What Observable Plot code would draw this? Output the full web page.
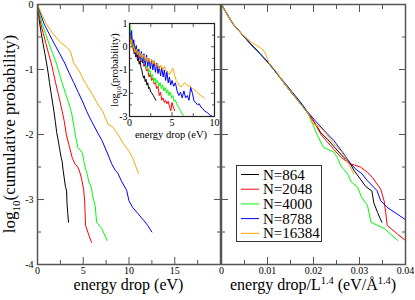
<!DOCTYPE html>
<html><head><meta charset="utf-8">
<script src="https://cdn.jsdelivr.net/npm/d3@7"></script>
<script src="https://cdn.jsdelivr.net/npm/@observablehq/plot@0.6"></script>
<style>
html,body{margin:0;padding:0;background:#fff;}
#chart{position:relative;width:415px;height:300px;overflow:hidden;}
#chart svg{position:absolute;left:0;top:0;}
#chart svg, #chart svg text, #chart svg tspan{font-family:"Liberation Serif","DejaVu Serif",serif !important;}
</style></head><body><div id="chart"></div>
<script>
// ---- series metadata ----
const seriesLabels = ["N=864", "N=2048", "N=4000", "N=8788", "N=16384"];
const seriesColors = ["#000000", "#ff0000", "#00ff00", "#0000ff", "#ffa500"];
const boxLength = [26.3, 35.1, 43.8, 57.2, 70.2]; // L in Å

// ---- cumulative probability (main panels) ----
const cumE864 = [0,0.12,0.25,0.42,0.6,0.8,0.99,1.16,1.31,1.47,1.64,1.8,1.95,2.1,2.25,2.42,2.58,2.7,2.8,2.95,3.05,3.18,3.22,3.3,3.39];
const cumY864 = [0,-0.15,-0.3,-0.45,-0.6,-0.75,-0.9,-1.05,-1.2,-1.35,-1.5,-1.65,-1.8,-1.97,-2.08,-2.22,-2.35,-2.42,-2.55,-2.7,-2.8,-2.87,-3.05,-3.2,-3.35];
const cumE2048 = [0,0.17,0.36,0.64,0.92,1.2,1.5,1.74,1.97,2.22,2.47,2.71,2.93,3.15,3.45,3.78,4.08,4.4,4.62,4.78,5.04,5.15,5.2,5.25,5.57,5.9];
const cumY2048 = [0,-0.15,-0.3,-0.45,-0.6,-0.75,-0.9,-1.05,-1.2,-1.35,-1.5,-1.65,-1.8,-2.0,-2.17,-2.35,-2.45,-2.5,-2.58,-2.66,-2.84,-3.02,-3.2,-3.4,-3.53,-3.66];
const cumE4000 = [0,0.24,0.5,0.87,1.25,1.65,2.05,2.37,2.68,3.02,3.38,3.7,3.95,4.15,4.41,4.85,5.0,5.15,5.45,5.6,5.88,6.04,6.3,6.46,7.04,7.61];
const cumY4000 = [0,-0.15,-0.3,-0.45,-0.6,-0.75,-0.9,-1.05,-1.2,-1.35,-1.5,-1.65,-1.85,-2.02,-2.2,-2.27,-2.35,-2.48,-2.61,-2.73,-2.81,-2.96,-3.09,-3.35,-3.45,-3.63];
const cumE8788 = [0,0.35,0.72,1.27,1.82,2.4,2.97,3.45,3.95,4.45,4.95,5.4,5.85,6.3,6.64,7.04,7.68,8.1,8.5,8.8,9.15,9.75,9.99,10.39,11.0,11.6,12.05,12.5];
const cumY8788 = [0,-0.15,-0.3,-0.45,-0.6,-0.75,-0.9,-1.05,-1.2,-1.35,-1.5,-1.65,-1.78,-1.9,-1.99,-2.09,-2.3,-2.45,-2.55,-2.6,-2.71,-2.86,-3.02,-3.12,-3.22,-3.32,-3.4,-3.5];
const cumE16384 = [0,0.46,0.96,1.69,2.42,3.2,3.6,3.96,4.58,5.19,5.85,6.54,7.15,7.7,8.27,8.8,9.38,9.96,10.4,10.77,11.04];
const cumY16384 = [0,-0.15,-0.3,-0.45,-0.57,-0.66,-0.72,-0.9,-1.03,-1.2,-1.35,-1.52,-1.65,-1.84,-1.89,-2.0,-2.14,-2.25,-2.36,-2.5,-2.6];

// ---- probability density (inset) ----
const insE864 = [0.05,0.15,0.25,0.35,0.45,0.55,0.65,0.75,0.85,0.95,1.05,1.15,1.25,1.35,1.45,1.55,1.65,1.75,1.85,1.95,2.05,2.15,2.25,2.35,2.5,2.65,2.8,2.95,3.1];
const insY864 = [0.6,0.2,0.35,-0.1,0.05,-0.3,-0.15,-0.45,-0.3,-0.6,-0.5,-0.75,-0.6,-0.9,-1.0,-1.2,-1.35,-1.25,-1.5,-1.4,-1.65,-1.55,-1.8,-1.75,-1.95,-2.0,-2.1,-2.2,-2.3];
const insE2048 = [0.05,0.2,0.35,0.5,0.65,0.8,0.95,1.1,1.25,1.4,1.55,1.7,1.85,2.0,2.15,2.3,2.45,2.6,2.75,2.9,3.05,3.2,3.35,3.5,3.65,3.8,3.95,4.1,4.25,4.4,4.55,4.7,4.85,5.0,5.15,5.3];
const insY2048 = [0.7,0.3,0.1,-0.15,0.0,-0.35,-0.25,-0.5,-0.4,-0.65,-0.55,-0.85,-0.75,-1.05,-0.95,-1.3,-1.15,-1.45,-1.35,-1.6,-1.55,-1.8,-1.7,-2.1,-1.95,-2.3,-2.2,-2.4,-2.3,-2.45,-2.35,-2.55,-2.75,-2.4,-2.6,-2.75];
const insE4000 = [0.05,0.15,0.3,0.45,0.6,0.75,0.9,1.05,1.2,1.35,1.5,1.65,1.8,1.95,2.1,2.25,2.4,2.55,2.7,2.85,3.0,3.15,3.3,3.45,3.6,3.75,3.9,4.05,4.2,4.35,4.5,4.65,4.8,4.95,5.1,5.25,5.4,5.55,5.7,5.85,6.0,6.15,6.3];
const insY4000 = [1.0,0.5,0.2,-0.05,0.1,-0.25,-0.1,-0.4,-0.3,-0.55,-0.45,-0.7,-0.6,-0.9,-0.8,-1.1,-1.0,-1.3,-1.2,-1.5,-1.35,-1.55,-1.45,-1.7,-1.55,-1.8,-1.65,-1.9,-1.75,-2.0,-1.85,-2.1,-1.95,-2.2,-2.1,-2.35,-2.3,-2.45,-2.55,-2.65,-2.75,-2.85,-2.95];
const insE8788 = [0.05,0.15,0.25,0.35,0.5,0.65,0.8,0.95,1.1,1.25,1.4,1.55,1.7,1.85,2.0,2.15,2.3,2.45,2.6,2.75,2.9,3.05,3.2,3.35,3.5,3.65,3.8,3.95,4.1,4.25,4.4,4.55,4.7,4.85,5.0,5.2,5.4,5.6,5.8,6.0,6.2,6.4,6.6,6.8,7.0,7.2,7.4,7.6,7.8,8.0,8.2,8.4,8.6,8.8,9.0,9.2,9.5,9.8];
const insY8788 = [0.6,0.2,0.7,0.0,0.3,-0.3,0.05,-0.45,-0.1,-0.55,-0.2,-0.7,-0.3,-0.8,-0.35,-0.85,-0.5,-0.95,-0.55,-1.0,-0.6,-1.1,-0.7,-1.15,-0.85,-1.25,-0.9,-1.3,-1.0,-1.45,-1.05,-1.55,-1.3,-1.65,-1.45,-1.7,-1.55,-1.9,-2.1,-1.95,-2.2,-1.9,-2.2,-2.1,-2.3,-1.75,-2.0,-2.35,-2.4,-2.5,-2.45,-2.6,-2.65,-2.75,-2.8,-2.85,-2.95,-3.0];
const insE16384 = [0.05,0.15,0.25,0.35,0.5,0.65,0.8,0.95,1.1,1.25,1.4,1.55,1.7,1.85,2.0,2.15,2.3,2.45,2.6,2.75,2.9,3.1,3.3,3.5,3.7,3.9,4.1,4.3,4.5,4.7,4.9,5.1,5.3,5.5,5.7,5.9,6.1,6.3,6.5,6.7,6.9,7.1,7.3,7.5,7.7,7.9,8.1,8.3,8.5,8.7,8.8];
const insY16384 = [0.5,0.1,0.3,-0.1,0.05,-0.25,-0.1,-0.35,-0.2,-0.45,-0.3,-0.5,-0.35,-0.6,-0.45,-0.65,-0.5,-0.7,-0.55,-0.75,-0.6,-0.85,-0.7,-0.95,-0.8,-1.0,-0.85,-1.05,-1.1,-1.2,-1.05,-0.92,-1.2,-1.45,-1.55,-1.7,-1.72,-1.62,-1.55,-1.6,-1.7,-1.68,-1.75,-1.82,-1.88,-1.92,-2.0,-2.08,-2.12,-2.18,-2.22];

// ---- ticks ----
const leftXMajor = [0, 5, 10, 15, 20], leftXMinor = [2.5, 7.5, 12.5, 17.5], leftXLabels = [0, 5, 10, 15];
const yMajor = [0, -1, -2, -3, -4], yMinor = [-0.5, -1.5, -2.5, -3.5];
const rightXMajor = [0, 0.01, 0.02, 0.03, 0.04], rightXMinor = [0.005, 0.015, 0.025, 0.035];
const insXMajor = [0, 5, 10], insXMinor = [2.5, 7.5];
const insYMajor = [1, 0, -1, -2, -3], insYMinor = [0.5, -0.5, -1.5, -2.5];

// ---- build tables ----
const cumSets = [[cumE864, cumY864], [cumE2048, cumY2048], [cumE4000, cumY4000], [cumE8788, cumY8788], [cumE16384, cumY16384]];
const insSets = [[insE864, insY864], [insE2048, insY2048], [insE4000, insY4000], [insE8788, insY8788], [insE16384, insY16384]];
function rows(sets) {
  const out = [];
  sets.forEach(([E, Y], i) => E.forEach((e, j) => out.push({N: seriesLabels[i], E: e, y: Y[j], L: boxLength[i]})));
  return out;
}
const cumRows = rows(cumSets);
const insRows = rows(insSets);

const FONT = '"Liberation Serif","DejaVu Serif",serif';
const AXIS = "#555";
const W = 415, H = 300;
const color = {domain: seriesLabels, range: seriesColors};

function boxTicks(xMaj, xMin, yMaj, yMin, big, small) {
  const s = {stroke: AXIS, strokeWidth: 1, fill: "none", label: null};
  const out = [];
  for (const [t, len] of [[xMaj, big], [xMin, small]]) {
    out.push(Plot.axisX(t, {...s, anchor: "bottom", tickSize: len, dy: -len}));
    out.push(Plot.axisX(t, {...s, anchor: "top", tickSize: len, dy: len}));
  }
  for (const [t, len] of [[yMaj, big], [yMin, small]]) {
    out.push(Plot.axisY(t, {...s, anchor: "left", tickSize: len, dx: len}));
    out.push(Plot.axisY(t, {...s, anchor: "right", tickSize: len, dx: -len}));
  }
  return out;
}
const style = {fontFamily: FONT, fontSize: "10px", background: "transparent", overflow: "visible", color: "#000"};

const left = Plot.plot({
  width: W, height: H, marginLeft: 37, marginRight: 195, marginTop: 4, marginBottom: 36,
  x: {domain: [0, 20]}, y: {domain: [-4, 0]}, color, style,
  marks: [
    Plot.line(cumRows, {x: "E", y: "y", z: "N", stroke: "N", strokeWidth: 1, clip: true}),
    ...boxTicks(leftXMajor, leftXMinor, yMajor, yMinor, 7, 4),
    Plot.axisX(leftXLabels, {anchor: "bottom", tickSize: 0, tickPadding: 2, tickFormat: d => String(d), label: null, fontSize: 10}),
    Plot.axisY(yMajor, {anchor: "left", tickSize: 0, tickPadding: 4, tickFormat: d => String(d), label: null, fontSize: 10}),
    Plot.frame({stroke: AXIS, strokeWidth: 1.5})
  ]
});

const right = Plot.plot({
  width: W, height: H, marginLeft: 221, marginRight: 10, marginTop: 4, marginBottom: 36,
  x: {domain: [0, 0.04]}, y: {domain: [-4, 0]}, color, style,
  marks: [
    Plot.line(cumRows, {x: d => d.E / Math.pow(d.L, 1.4), y: "y", z: "N", stroke: "N", strokeWidth: 1, clip: true}),
    ...boxTicks(rightXMajor, rightXMinor, yMajor, yMinor, 7, 4),
    Plot.axisX(rightXMajor, {anchor: "bottom", tickSize: 0, tickPadding: 2, tickFormat: d => String(d), label: null, fontSize: 10}),
    Plot.frame({stroke: AXIS, strokeWidth: 1.5})
  ]
});

const inset = Plot.plot({
  width: W, height: H, marginLeft: 129, marginRight: 201, marginTop: 23, marginBottom: 184,
  x: {domain: [0, 10]}, y: {domain: [-3, 1]}, color, style,
  marks: [
    Plot.frame({fill: "white", stroke: "none"}),
    Plot.line(insRows, {x: "E", y: "y", z: "N", stroke: "N", strokeWidth: 1, clip: true}),
    ...boxTicks(insXMajor, insXMinor, insYMajor, insYMinor, 4, 3),
    Plot.axisX(insXMajor, {anchor: "bottom", tickSize: 0, tickPadding: 2, tickFormat: d => String(d), label: null, fontSize: 10}),
    Plot.axisY(insYMajor, {anchor: "left", tickSize: 0, tickPadding: 2, tickFormat: d => String(d), label: null, fontSize: 10}),
    Plot.frame({stroke: "#222", strokeWidth: 1.2})
  ]
});

const chart = document.getElementById("chart");
chart.append(left, right, inset);

// ---- labels and legend overlay ----
const ov = d3.select(chart).append("svg").attr("width", W).attr("height", H)
  .style("overflow", "visible");

function addText(g, parts, size) {
  parts.forEach(([txt, kind]) => {
    const t = g.append("tspan").text(txt);
    if (kind === "sub") t.attr("dy", size * 0.3).style("font-size", (size * 0.65) + "px");
    else if (kind === "sup") t.attr("dy", -size * 0.4).style("font-size", (size * 0.65) + "px");
    else if (kind === "back-sub") t.attr("dy", -size * 0.3);
    else if (kind === "back-sup") t.attr("dy", size * 0.4);
  });
}

const yl = ov.append("text").attr("transform", "translate(14.5,134) rotate(-90)")
  .attr("text-anchor", "middle").style("font-size", "17px");
addText(yl, [["log"], ["10", "sub"], ["(cumulative probability)", "back-sub"]], 17);

ov.append("text").attr("x", 128.5).attr("y", 290).attr("text-anchor", "middle")
  .style("font-size", "16px").text("energy drop (eV)");

const xr = ov.append("text").attr("x", 313).attr("y", 290).attr("text-anchor", "middle").style("font-size", "16px");
addText(xr, [["energy drop/L"], ["1.4", "sup"], [" (eV/Å", "back-sup"], ["1.4", "sup"], [")", "back-sup"]], 16);

const iyl = ov.append("text").attr("transform", "translate(118,70) rotate(-90)")
  .attr("text-anchor", "middle").style("font-size", "10.5px");
addText(iyl, [["log"], ["10", "sub"], ["(probability)", "back-sub"]], 10.5);

ov.append("text").attr("x", 171).attr("y", 138).attr("text-anchor", "middle")
  .style("font-size", "10.5px").text("energy drop (eV)");

// legend
const lg = ov.append("g");
lg.append("rect").attr("x", 236.5).attr("y", 165.5).attr("width", 85).attr("height", 76)
  .attr("fill", "white").attr("stroke", "#333").attr("stroke-width", 1);
seriesLabels.forEach((lab, i) => {
  const cy = 174.5 + i * 14.7;
  lg.append("line").attr("x1", 241).attr("x2", 259).attr("y1", cy).attr("y2", cy)
    .attr("stroke", seriesColors[i]).attr("stroke-width", 1);
  lg.append("text").attr("x", 263).attr("y", cy + 5).style("font-size", "15px").text(lab);
});
</script>
</body></html>
